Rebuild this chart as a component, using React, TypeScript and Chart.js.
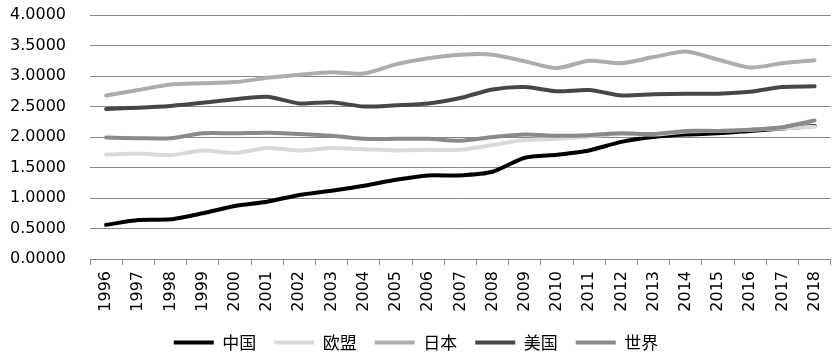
import React, { useEffect, useRef } from "react";
import { Chart, registerables } from "chart.js";

Chart.register(...registerables);

const years = ["1996","1997","1998","1999","2000","2001","2002","2003","2004","2005","2006","2007","2008","2009","2010","2011","2012","2013","2014","2015","2016","2017","2018"];
const china = [0.56,0.64,0.65,0.75,0.87,0.94,1.05,1.12,1.20,1.30,1.37,1.37,1.43,1.66,1.71,1.78,1.92,2.00,2.04,2.06,2.10,2.14,2.18];
const eu = [1.71,1.73,1.70,1.78,1.74,1.82,1.78,1.82,1.80,1.78,1.79,1.79,1.87,1.95,1.97,2.01,2.05,2.04,2.09,2.10,2.12,2.14,2.17];
const japan = [2.68,2.77,2.86,2.88,2.90,2.97,3.02,3.06,3.04,3.19,3.29,3.35,3.35,3.24,3.13,3.25,3.21,3.31,3.40,3.27,3.14,3.21,3.26];
const usa = [2.46,2.48,2.51,2.56,2.62,2.66,2.55,2.57,2.50,2.52,2.55,2.64,2.78,2.82,2.75,2.77,2.68,2.70,2.71,2.71,2.74,2.82,2.83];
const world = [1.99,1.98,1.98,2.06,2.06,2.07,2.05,2.02,1.97,1.97,1.97,1.94,2.00,2.04,2.02,2.03,2.06,2.05,2.10,2.10,2.12,2.16,2.27];
const seriesNames = ["中国", "欧盟", "日本", "美国", "世界"];

export default function App() {
  const ref = useRef<HTMLCanvasElement | null>(null);
  useEffect(() => {
    document.body.style.margin = "0";
    const ctx = ref.current!;
    const mk = (label: string, data: number[], color: string, order: number) => ({
      label,
      data,
      borderColor: color,
      backgroundColor: color,
      borderWidth: 4,
      pointRadius: 0,
      tension: 0.25,
      fill: false,
      order,
      borderCapStyle: "round" as const,
    });
    const chart = new Chart(ctx, {
      type: "line",
      data: {
        labels: years,
        datasets: [
          mk(seriesNames[0], china, "#000000", 4),
          mk(seriesNames[1], eu, "#d9d9d9", 3),
          mk(seriesNames[2], japan, "#adadad", 2),
          mk(seriesNames[3], usa, "#474747", 1),
          mk(seriesNames[4], world, "#8a8a8a", 0),
        ],
      },
      options: {
        responsive: false,
        animation: false,
        layout: { padding: { top: 15, right: 8, left: 0, bottom: 1 } },
        plugins: {
          tooltip: { enabled: false },
          legend: {
            position: "bottom",
            labels: {
              usePointStyle: true,
              pointStyle: "line",
              pointStyleWidth: 40,
              boxWidth: 40,
              boxHeight: 17,
              padding: 18,
              color: "#000",
              font: { family: "'Noto Sans CJK SC', sans-serif", size: 17 },
              sort: (a: any, b: any) => a.datasetIndex - b.datasetIndex,
            },
          },
        },
        scales: {
          x: {
            offset: true,
            afterFit: (s: any) => { s.height = 57; },
            grid: { drawOnChartArea: false, drawTicks: true, tickLength: 6, color: "#888", offset: true },
            border: { color: "#888" },
            ticks: {
              minRotation: 90,
              maxRotation: 90,
              padding: 6,
              autoSkip: false,
              color: "#000",
              font: { family: "'DejaVu Sans', sans-serif", size: 16 },
            },
          },
          y: {
            min: 0,
            max: 4,
            afterFit: (s: any) => { s.width = 90; },
            grid: { color: "#888", drawTicks: true, tickLength: 20, tickColor: "rgba(0,0,0,0)" },
            border: { display: false },
            ticks: {
              stepSize: 0.5,
              padding: 4,
              color: "#000",
              font: { family: "'DejaVu Sans', sans-serif", size: 16 },
              callback: (v: any) => Number(v).toFixed(4),
            },
          },
        },
      },
    });
    return () => chart.destroy();
  }, []);
  return (
    <div style={{ width: 840, height: 362 }}>
      <canvas ref={ref} width={840} height={362} style={{ display: "block" }} />
    </div>
  );
}
